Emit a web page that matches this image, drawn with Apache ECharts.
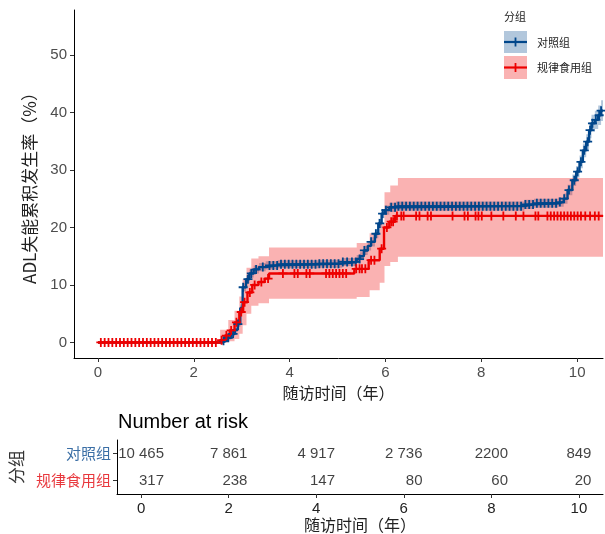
<!DOCTYPE html>
<html><head><meta charset="utf-8">
<script src="https://cdn.jsdelivr.net/npm/echarts@6/dist/echarts.min.js"></script>
<style>html,body{margin:0;padding:0;background:#fff}#c{width:605px;height:534px}</style>
</head><body><div id="c"></div>
<script>
// ---------------- data ----------------
const groups = ['对照组', '规律食用组'];
const xTicks = [0, 2, 4, 6, 8, 10];
const yTicks = [0, 10, 20, 30, 40, 50];

// 对照组 cumulative incidence (%) with 95% CI
const blueTime  = [0, 2.6, 2.7, 2.78, 2.86, 2.92, 2.97, 3.02, 3.09, 3.16, 3.25, 3.36, 3.5, 3.75, 4.6, 5.1, 5.4, 5.47, 5.55, 5.63, 5.7, 5.78, 5.85, 5.92, 5.98, 6.08, 6.22, 8.9, 9.1, 9.6, 9.72, 9.8, 9.9, 9.98, 10.05, 10.12, 10.19, 10.25, 10.3, 10.37, 10.44, 10.5, 10.54];
const blueRate  = [0, 0.3, 0.8, 1.5, 2.2, 3.2, 6.0, 9.6, 11.0, 12.0, 12.7, 13.1, 13.4, 13.6, 13.7, 14.0, 14.5, 15.0, 16.0, 16.8, 17.5, 18.9, 20.7, 22.4, 23.0, 23.5, 23.7, 24.0, 24.2, 24.4, 25.0, 26.5, 28.2, 29.7, 31.4, 33.4, 34.9, 36.9, 38.1, 38.7, 39.5, 40.3, 40.3];
const blueLower = [0, 0.1, 0.5, 1.1, 1.8, 2.7, 5.4, 8.9, 10.3, 11.3, 12.0, 12.4, 12.7, 12.9, 13.0, 13.3, 13.8, 14.3, 15.2, 16.0, 16.7, 18.1, 19.9, 21.6, 22.2, 22.7, 22.9, 23.2, 23.4, 23.6, 24.1, 25.6, 27.2, 28.7, 30.3, 32.2, 33.6, 35.5, 36.6, 37.1, 37.8, 38.5, 38.5];
const blueUpper = [0, 0.5, 1.1, 1.9, 2.6, 3.7, 6.6, 10.3, 11.7, 12.7, 13.4, 13.8, 14.1, 14.3, 14.4, 14.7, 15.2, 15.7, 16.8, 17.6, 18.3, 19.7, 21.5, 23.2, 23.8, 24.3, 24.5, 24.8, 25.0, 25.2, 25.9, 27.4, 29.2, 30.7, 32.5, 34.6, 36.2, 38.3, 39.6, 40.3, 41.2, 42.1, 42.1];
const blueCensor = [2.62, 2.72, 2.82, 2.92, 3.03, 3.13, 3.2, 3.3, 3.44, 3.58, 3.66, 3.74, 3.82, 3.9, 3.98, 4.06, 4.14, 4.22, 4.3, 4.38, 4.46, 4.54, 4.62, 4.7, 4.78, 4.86, 4.94, 5.02, 5.11, 5.2, 5.3, 5.38, 5.46, 5.56, 5.7, 5.8, 5.88, 5.94, 6.01, 6.12, 6.2, 6.27, 6.35, 6.43, 6.51, 6.59, 6.67, 6.75, 6.83, 6.91, 6.99, 7.07, 7.15, 7.23, 7.31, 7.39, 7.47, 7.55, 7.63, 7.71, 7.79, 7.87, 7.95, 8.03, 8.11, 8.19, 8.27, 8.35, 8.43, 8.51, 8.59, 8.67, 8.75, 8.83, 8.92, 9.0, 9.08, 9.16, 9.24, 9.32, 9.4, 9.48, 9.56, 9.64, 9.73, 9.83, 9.94, 10.01, 10.08, 10.15, 10.22, 10.27, 10.32, 10.39, 10.46, 10.5];

// 规律食用组
const redTime = [0, 2.55, 2.65, 2.75, 2.85, 2.95, 3.03, 3.12, 3.22, 3.35, 3.48, 3.57, 5.35, 5.65, 5.88, 5.97, 6.08, 6.2, 10.54];
const redRate = [0, 0.4, 1.2, 2.1, 3.5, 5.3, 7.0, 8.7, 10.0, 10.5, 11.1, 12.0, 12.8, 14.3, 16.3, 20.0, 21.0, 22.0, 22.0];
const redBandTime = [2.55, 2.72, 2.85, 2.95, 3.02, 3.1, 3.2, 3.35, 3.57, 5.4, 5.67, 5.88, 5.98, 6.1, 6.26, 10.54];
const redLower    = [0, 0.2, 0.6, 1.5, 3.0, 5.0, 6.4, 6.8, 7.6, 7.9, 9.1, 10.4, 13.3, 14.0, 14.9, 14.9];
const redUpper    = [2.2, 3.9, 5.5, 8.0, 11.0, 13.0, 14.6, 15.0, 16.5, 17.3, 19.0, 20.8, 26.1, 27.3, 28.6, 28.6];
const redCensor = [0.06, 0.14, 0.22, 0.3, 0.38, 0.46, 0.54, 0.62, 0.7, 0.78, 0.86, 0.94, 1.02, 1.1, 1.18, 1.26, 1.34, 1.42, 1.5, 1.58, 1.66, 1.74, 1.82, 1.9, 1.98, 2.06, 2.14, 2.22, 2.3, 2.38, 2.46,
  2.58, 2.68, 2.78, 2.89, 2.99, 3.06, 3.17, 3.27, 3.41, 3.55, 3.86, 4.10, 4.17, 4.35, 4.42, 4.76, 4.83, 4.90, 4.97, 5.04, 5.11, 5.18,
  5.39, 5.46, 5.51, 5.58, 5.70, 5.77, 5.92, 6.03, 6.12, 6.16, 6.24, 6.33, 6.38, 6.64, 6.71, 6.88, 6.95, 7.40, 7.65, 7.72, 7.88, 7.94, 8.01, 8.21, 8.46, 8.72, 8.88, 9.13, 9.19, 9.38, 9.45, 9.52, 9.59, 9.66, 9.73, 9.80, 9.87, 9.94, 10.01, 10.08, 10.17, 10.27, 10.37, 10.45];

// Number at risk
const riskTimes = [0, 2, 4, 6, 8, 10];
const riskControl = ['10 465', '7 861', '4 917', '2 736', '2200', '849'];
const riskRegular = ['317', '238', '147', '80', '60', '20'];

// ---------------- helpers ----------------
const BLUE = '#00468B', RED = '#ED0000';
const BLUE_BAND = 'rgba(0,70,139,0.3)', RED_BAND = 'rgba(237,0,0,0.3)';
const NUMFONT = '"Liberation Sans", Arial, sans-serif';
const CJK = '"Noto Sans CJK SC", sans-serif';
const pairs = (t, v) => t.map((x, i) => [x, v[i]]);
function stepAt(x, times, vals) { let k = 0; for (let i = 0; i < times.length; i++) if (times[i] <= x) k = i; return vals[k]; }
const censorPts = (c, t, v) => c.map(x => [x, stepAt(x, t, v)]);
const PLUS = 'path://M-1,-0.2H-0.2V-1H0.2V-0.2H1V0.2H0.2V1H-0.2V0.2H-1Z';

// step-shaped confidence band drawn as one polygon through the axis scales
function bandSeries(times, lo, hi, color) {
  return {
    type: 'custom', xAxisIndex: 0, yAxisIndex: 0, silent: true, z: 1,
    data: times.map((t, i) => [t, lo[i], hi[i]]),
    encode: { x: 0, y: [1, 2] },
    renderItem: function (params, api) {
      if (params.dataIndex !== 0) return null;
      const top = [], bot = [];
      for (let i = 0; i < times.length; i++) {
        const x0 = api.coord([times[i], hi[i]])[0];
        const x1 = i < times.length - 1 ? api.coord([times[i + 1], hi[i]])[0] : x0;
        const yh = api.coord([times[i], hi[i]])[1];
        const yl = api.coord([times[i], lo[i]])[1];
        top.push([x0, yh], [x1, yh]);
        bot.push([x0, yl], [x1, yl]);
      }
      const pts = top.concat(bot.reverse());
      return { type: 'polygon', shape: { points: pts }, style: { fill: color } };
    }
  };
}

const ctx = document.createElement('canvas').getContext('2d');
ctx.font = '15px ' + NUMFONT;
const halfW = riskControl.map(s => ctx.measureText(s).width / 2);

const chart = echarts.init(document.getElementById('c'), null, { renderer: 'canvas' });
const axLine = { show: true, onZero: false, lineStyle: { color: '#000', width: 1 } };
const tickStyle = { show: true, length: 4, lineStyle: { color: '#333', width: 1 } };

const option = {
  animation: false,
  backgroundColor: '#fff',
  grid: [
    { left: 74, top: 10, width: 529, height: 348, outerBoundsMode: 'none' },
    { left: 117, top: 440, width: 486, height: 54, outerBoundsMode: 'none' }
  ],
  xAxis: [
    { gridIndex: 0, type: 'value', min: -0.5, max: 10.54,
      axisLine: axLine, axisTick: Object.assign({ customValues: xTicks }, tickStyle),
      axisLabel: { customValues: xTicks, color: '#4d4d4d', fontSize: 15, fontFamily: NUMFONT, margin: 7 },
      splitLine: { show: false },
      name: '随访时间（年）', nameLocation: 'middle', nameGap: 24,
      nameTextStyle: { fontSize: 16, fontFamily: CJK, color: '#222' } },
    { gridIndex: 1, type: 'value', min: -0.55, max: 10.55,
      axisLine: axLine, axisTick: Object.assign({ customValues: xTicks }, tickStyle),
      axisLabel: { customValues: xTicks, color: '#222', fontSize: 15, fontFamily: NUMFONT, margin: 7 },
      splitLine: { show: false },
      name: '随访时间（年）', nameLocation: 'middle', nameGap: 23,
      nameTextStyle: { fontSize: 16, fontFamily: CJK, color: '#222' } }
  ],
  yAxis: [
    { gridIndex: 0, type: 'value', min: -2.7, max: 57.8,
      axisLine: axLine, axisTick: Object.assign({ customValues: yTicks }, tickStyle),
      axisLabel: { customValues: yTicks, color: '#4d4d4d', fontSize: 15, fontFamily: NUMFONT, margin: 7 },
      splitLine: { show: false },
      name: 'ADL失能累积发生率（%）', nameLocation: 'middle', nameGap: 36, nameRotate: 90,
      nameTextStyle: { fontSize: 17, fontFamily: CJK, color: '#222' } },
    { gridIndex: 1, type: 'category', data: groups, inverse: true,
      axisLine: axLine,
      axisTick: Object.assign({ alignWithLabel: true }, tickStyle),
      axisLabel: { margin: 6, fontSize: 15, fontFamily: CJK,
        formatter: (v) => v === groups[0] ? '{a|' + v + '}' : '{b|' + v + '}',
        rich: { a: { color: '#3a6ea5', fontSize: 15, fontFamily: CJK }, b: { color: '#e8383d', fontSize: 15, fontFamily: CJK } } },
      name: '分组', nameLocation: 'middle', nameGap: 86, nameRotate: 90,
      nameTextStyle: { fontSize: 17, fontFamily: CJK, color: '#333' } }
  ],
  series: [
    bandSeries(blueTime, blueLower, blueUpper, BLUE_BAND),
    bandSeries(redBandTime, redLower, redUpper, RED_BAND),
    // curves
    { type: 'line', name: groups[0], xAxisIndex: 0, yAxisIndex: 0, step: 'end', symbol: 'none', z: 2,
      data: pairs(blueTime, blueRate), lineStyle: { color: BLUE, width: 2.4 } },
    { type: 'line', name: groups[1], xAxisIndex: 0, yAxisIndex: 0, step: 'end', symbol: 'none', z: 2,
      data: pairs(redTime, redRate), lineStyle: { color: RED, width: 2.4 } },
    // censor marks
    { type: 'scatter', xAxisIndex: 0, yAxisIndex: 0, symbol: PLUS, symbolSize: 9, z: 3,
      data: censorPts(blueCensor, blueTime, blueRate), itemStyle: { color: BLUE, opacity: 1 } },
    { type: 'scatter', xAxisIndex: 0, yAxisIndex: 0, symbol: PLUS, symbolSize: 9, z: 3,
      data: censorPts(redCensor, redTime, redRate), itemStyle: { color: RED, opacity: 1 } },
    // risk table
    { type: 'scatter', xAxisIndex: 1, yAxisIndex: 1, symbolSize: 1, itemStyle: { color: 'transparent' },
      data: riskTimes.map((t, i) => ({ value: [t, groups[0]], label: { formatter: riskControl[i] } })),
      label: { show: true, position: 'inside', color: '#111', fontSize: 15, fontFamily: NUMFONT } },
    { type: 'scatter', xAxisIndex: 1, yAxisIndex: 1, symbolSize: 1, itemStyle: { color: 'transparent' },
      data: riskTimes.map((t, i) => ({ value: [t, groups[1]], label: { formatter: riskRegular[i], offset: [halfW[i], 0] } })),
      label: { show: true, position: 'inside', align: 'right', color: '#111', fontSize: 15, fontFamily: NUMFONT } }
  ],
  graphic: [
    { type: 'text', left: 118, top: 412, style: { text: 'Number at risk', font: '20px ' + NUMFONT, fill: '#000' } },
    { type: 'text', x: 504, y: 17, style: { text: '分组', font: '11px ' + CJK, fill: '#222', verticalAlign: 'middle' } },
    { type: 'rect', shape: { x: 504, y: 31, width: 23, height: 22 }, style: { fill: BLUE_BAND } },
    { type: 'line', shape: { x1: 504, y1: 42, x2: 527, y2: 42 }, style: { stroke: BLUE, lineWidth: 2.2 } },
    { type: 'line', shape: { x1: 515.5, y1: 37.5, x2: 515.5, y2: 46.5 }, style: { stroke: BLUE, lineWidth: 1.8 } },
    { type: 'text', x: 537, y: 43, style: { text: groups[0], font: '11px ' + CJK, fill: '#222', verticalAlign: 'middle' } },
    { type: 'rect', shape: { x: 504, y: 56, width: 23, height: 23 }, style: { fill: RED_BAND } },
    { type: 'line', shape: { x1: 504, y1: 67.5, x2: 527, y2: 67.5 }, style: { stroke: RED, lineWidth: 2.2 } },
    { type: 'line', shape: { x1: 515.5, y1: 63, x2: 515.5, y2: 72 }, style: { stroke: RED, lineWidth: 1.8 } },
    { type: 'text', x: 537, y: 68, style: { text: groups[1], font: '11px ' + CJK, fill: '#222', verticalAlign: 'middle' } }
  ]
};
chart.setOption(option);
</script></body></html>
